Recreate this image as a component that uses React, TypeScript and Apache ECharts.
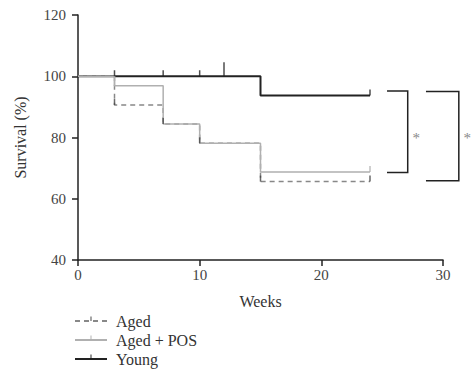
import React, { useEffect, useRef } from "react";
import * as echarts from "echarts";

const xTicks = { min: 0, max: 30, interval: 10 };
const yTicks = { min: 40, max: 120, interval: 20 };

const youngCurve: [number, number][] = [[0, 100], [15, 93.75], [24, 93.75]];
const agedCurve: [number, number][] = [[0, 100], [3, 90.6], [7, 84.4], [10, 78.1], [15, 65.6], [24, 65.6]];
const agedPosCurve: [number, number][] = [[0, 100], [3, 96.9], [7, 84.4], [10, 78.1], [15, 68.75], [24, 68.75]];

const youngCensor: [number, number][] = [[3, 100], [7, 100], [10, 100], [24, 93.75]];
const youngCensorTall: [number, number][] = [[12, 100]];
const agedCensor: [number, number][] = [[3, 90.6], [7, 84.4], [10, 78.1], [15, 65.6], [24, 65.6]];
const agedPosCensor: [number, number][] = [[3, 96.9], [24, 68.75]];

// brackets: [xStart, xEnd, yTop, yBottom]
const brackets: [number, number, number, number][] = [
  [25.4, 27.1, 95.2, 68.6],
  [28.6, 31.3, 95.0, 65.9],
];
const stars: [number, number][] = [[27.8, 80], [32.0, 80]];

const FONT = "Liberation Serif";
const tickIcon =
  "path://M0,0h0.01v0.01h-0.01zM6.4,1.5h1.2v5.5h-1.2zM14,14h0.01v0.01h-0.01z";

export default function App() {
  const ref = useRef<HTMLDivElement>(null);
  useEffect(() => {
    document.body.style.margin = "0";
    const chart = echarts.init(ref.current!, null, { renderer: "svg" });
    const censorSeries = (name: string, data: [number, number][], color: string, h = 6) => ({
      name,
      type: "scatter",
      data,
      symbol: "rect",
      symbolSize: [1.5, h],
      symbolOffset: [0, -h / 2],
      itemStyle: { color },
      silent: true,
      z: 5,
    });
    chart.setOption({
      animation: false,
      textStyle: { fontFamily: FONT },
      grid: { left: 78, right: 28, top: 15, bottom: 114 },
      xAxis: {
        type: "value",
        ...xTicks,
        name: "Weeks",
        nameLocation: "middle",
        nameGap: 33,
        nameTextStyle: { fontFamily: FONT, fontSize: 16, color: "#333" },
        axisLine: { lineStyle: { color: "#222", width: 1.5 } },
        axisTick: { lineStyle: { color: "#222", width: 1.5 }, length: 6 },
        axisLabel: { fontFamily: FONT, fontSize: 15, color: "#444", margin: 7 },
        splitLine: { show: false },
      },
      yAxis: {
        type: "value",
        ...yTicks,
        name: "Survival (%)",
        nameLocation: "middle",
        nameGap: 50,
        nameTextStyle: { fontFamily: FONT, fontSize: 16, color: "#333" },
        axisLine: { show: true, lineStyle: { color: "#222", width: 1.5 } },
        axisTick: { show: true, lineStyle: { color: "#222", width: 1.5 }, length: 6 },
        axisLabel: { fontFamily: FONT, fontSize: 15, color: "#444", margin: 12 },
        splitLine: { show: false },
      },
      legend: {
        orient: "vertical",
        left: 74,
        top: 313,
        padding: 0,
        itemGap: 3,
        itemWidth: 32,
        itemHeight: 14,
        textStyle: { fontFamily: FONT, fontSize: 16, color: "#333", padding: [0, 0, 0, 4] },
        data: ["Aged", "Aged + POS", "Young"],
      },
      series: [
        {
          name: "Young",
          type: "line",
          step: "end",
          data: youngCurve,
          showSymbol: false,
          symbol: tickIcon,
          lineStyle: { color: "#222", width: 2 },
          itemStyle: { color: "#222" },
          z: 2,
        },
        {
          name: "Aged",
          type: "line",
          step: "end",
          data: agedCurve,
          showSymbol: false,
          symbol: tickIcon,
          lineStyle: { color: "#888", width: 1.5, type: [5, 4] },
          itemStyle: { color: "#444" },
          z: 3,
        },
        {
          name: "Aged + POS",
          type: "line",
          step: "end",
          data: agedPosCurve,
          showSymbol: false,
          symbol: tickIcon,
          lineStyle: { color: "#b0b0b0", width: 1.5 },
          itemStyle: { color: "#b0b0b0" },
          z: 4,
        },
        censorSeries("yc", youngCensor, "#222"),
        censorSeries("yct", youngCensorTall, "#222", 14),
        censorSeries("ac", agedCensor, "#444"),
        censorSeries("apc", agedPosCensor, "#b0b0b0"),
        {
          name: "brackets",
          type: "custom",
          data: brackets,
          silent: true,
          clip: false,
          renderItem: (params: any, api: any) => {
            const x1 = api.value(0), x2 = api.value(1), yt = api.value(2), yb = api.value(3);
            const p1 = api.coord([x1, yt]);
            const p2 = api.coord([x2, yt]);
            const p3 = api.coord([x2, yb]);
            const p4 = api.coord([x1, yb]);
            return {
              type: "polyline",
              shape: { points: [p1, p2, p3, p4] },
              style: { stroke: "#222", lineWidth: 1.5, fill: "none" },
            };
          },
        },
        {
          name: "stars",
          type: "custom",
          data: stars,
          silent: true,
          clip: false,
          renderItem: (params: any, api: any) => {
            const p = api.coord([api.value(0), api.value(1)]);
            return {
              type: "text",
              x: p[0],
              y: p[1],
              style: {
                text: "*",
                fill: "#888",
                font: `15px "${FONT}"`,
                align: "center",
                verticalAlign: "middle",
              },
            };
          },
        },
      ],
    });
    return () => chart.dispose();
  }, []);
  return <div ref={ref} style={{ width: 471, height: 374 }} />;
}
